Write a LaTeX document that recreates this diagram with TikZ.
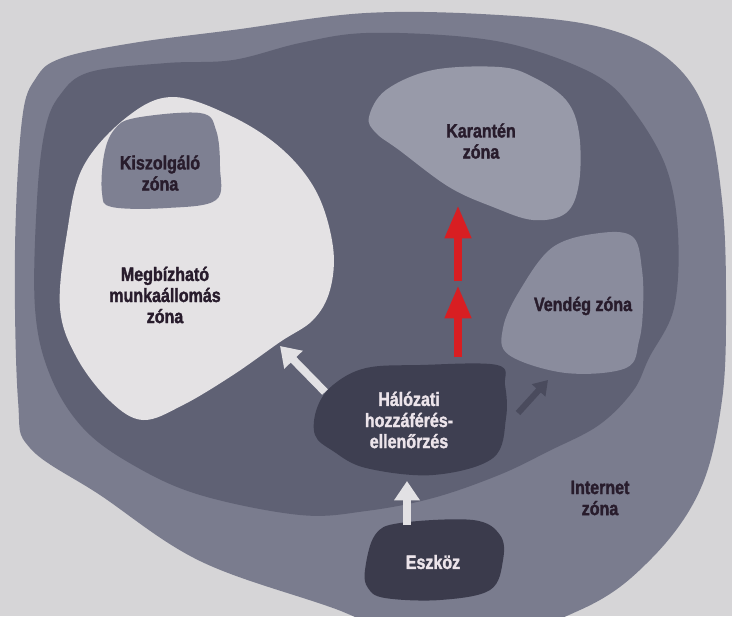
\documentclass[tikz,border=0pt]{standalone}
\usepackage{fontspec}
\setmainfont{Liberation Sans}[FakeStretch=0.83,BoldFeatures={FakeBold=1.6}]
\usepackage{xcolor}
\usetikzlibrary{arrows.meta}

\definecolor{bgpaper}{HTML}{D6D5D7}
\definecolor{netzone}{HTML}{7A7C8E}
\definecolor{lanzone}{HTML}{5F6174}
\definecolor{trustzone}{HTML}{E4E2E4}
\definecolor{srvzone}{HTML}{7E8092}
\definecolor{quarzone}{HTML}{989AA9}
\definecolor{guestzone}{HTML}{8A8C9D}
\definecolor{naczone}{HTML}{3E3F51}
\definecolor{devzone}{HTML}{3B3B4C}
\definecolor{txtdark}{HTML}{281C2C}
\definecolor{txtlight}{HTML}{ECE4EA}
\definecolor{arrred}{HTML}{D81E22}
\definecolor{arrwhite}{HTML}{E2E1E4}
\definecolor{arrdark}{HTML}{4A4B5D}

\begin{document}
\begin{tikzpicture}[x=0.02cm,y=-0.02cm,
  zonetext/.style={font=\bfseries\fontsize{11}{12}\selectfont,text=txtdark,align=center},
  lighttext/.style={zonetext,text=txtlight},
  whitearrow/.style={draw=arrwhite,line width=4.5pt,-{Triangle[width=14pt,length=11pt]}},
  redarrow/.style={draw=arrred,line width=5pt,-{Triangle[width=14pt,length=19pt]}},
  darkarrow/.style={draw=arrdark,line width=3.5pt,-{Triangle[width=10pt,length=8pt]}}]
\useasboundingbox (0,0) rectangle (732,616);
\fill[bgpaper] (0,0) rectangle (732,616);
% internet zone
\fill[netzone] plot[smooth cycle,tension=0.6] coordinates {(22,120) (36,78) (62,58) (133,43) (233,30)
  (366,13) (499,15) (600,27) (666,57) (705,110) (722,200) (726,300) (722,400) (700,490)
  (650,560) (580,610) (450,650) (333,608) (200,561) (100,495) (30,448) (18,400) (15,250)};
% inner zone
\fill[lanzone] plot[smooth cycle,tension=0.6] coordinates {(45,130) (60,95) (90,72) (167,63) (233,60)
  (300,43) (366,33) (466,37) (533,50) (599,77) (633,110) (666,167) (678,233) (674,308)
  (649,358) (633,391) (599,425) (549,451) (499,475) (433,498) (366,511) (300,515)
  (200,495) (133,465) (83,428) (50,375) (35,308) (37,200)};
% trusted zone and the zones in it
\fill[trustzone] plot[smooth cycle,tension=0.6] coordinates {(127,117) (173,97) (233,117) (283,150)
  (317,193) (333,247) (330,290) (313,320) (280,342) (233,375) (183,405) (143,420)
  (110,401) (77,358) (60,308) (67,233) (83,167)};
\fill[srvzone] plot[smooth cycle,tension=0.6] coordinates {(135,118) (200,113) (216,130) (220,167)
  (216,200) (167,208) (112,207) (102,193) (104,155) (114,130)};
\fill[quarzone] plot[smooth cycle,tension=0.6] coordinates {(369,117) (386,90) (433,70) (499,67)
  (533,77) (566,100) (579,133) (579,183) (566,213) (533,220) (493,207) (449,187)
  (399,150) (376,133)};
\fill[guestzone] plot[smooth cycle,tension=0.6] coordinates {(553,247) (600,233) (633,237) (642,270)
  (643,308) (639,341) (626,368) (566,373) (509,355) (503,328) (520,290)};
\fill[naczone] plot[smooth cycle,tension=0.6] coordinates {(317,408) (333,385) (366,368) (420,365)
  (497,365) (505,385) (506,418) (493,458) (433,475) (366,468) (333,451) (315,435)};
\fill[devzone] plot[smooth cycle,tension=0.6] coordinates {(365,570) (375,535) (400,523) (473,520)
  (500,535) (503,560) (490,590) (440,600) (385,598) (368,588)};

\node[zonetext] (srv) at (160,173) {Kiszolgáló\\zóna};
\node[zonetext] (trust) at (165,295) {Megbízható\\munkaállomás\\zóna};
\node[zonetext] (quar) at (481,141) {Karantén\\zóna};
\node[zonetext] (guest) at (583,306) {Vendég zóna};
\node[zonetext] (net) at (600,498) {Internet\\zóna};
\node[lighttext] (nac) at (409,420) {Hálózati\\hozzáférés-\\ellenőrzés};
\node[lighttext] (dev) at (433,562) {Eszköz};

\coordinate (devtop) at (407,525);
\coordinate (nacbot) at (407,481);
\coordinate (nacleft) at (325,392);
\coordinate (trustend) at (280,346);
\coordinate (nacright) at (518,413);
\coordinate (guestend) at (548,380);
\coordinate (nactop) at (458,357);
\coordinate (redmid) at (458,285);
\coordinate (redmid2) at (458,281);
\coordinate (quarend) at (458,205);

\draw[whitearrow] (devtop) -- (nacbot);
\draw[whitearrow] (nacleft) -- (trustend);
\draw[darkarrow] (nacright) -- (guestend);
\draw[redarrow] (nactop) -- (redmid);
\draw[redarrow] (redmid2) -- (quarend);
\end{tikzpicture}
\end{document}
